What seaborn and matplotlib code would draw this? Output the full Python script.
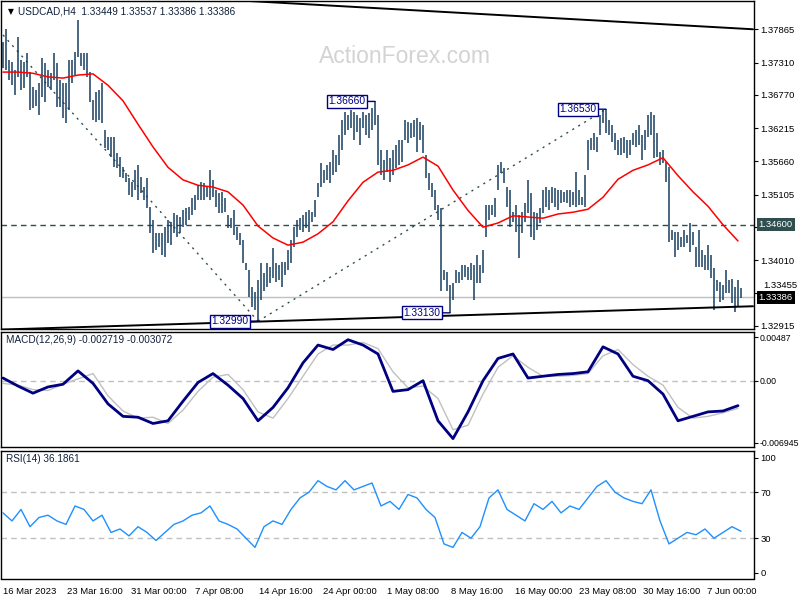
import numpy as np
import matplotlib
matplotlib.use("Agg")
import matplotlib.pyplot as plt
import matplotlib.transforms as mtransforms
import seaborn as sns

sns.set_theme(style="white")
plt.rcParams["font.family"] = ["Liberation Sans", "DejaVu Sans"]

# ---- price bars (H4) ----
high = [
    1.3765, 1.3787, 1.3735, 1.3732, 1.3718, 1.3774, 1.3735, 1.3732, 1.3747, 1.3715,
    1.3690, 1.3685, 1.3697, 1.3739, 1.3730, 1.3718, 1.3713, 1.3747, 1.3730, 1.3702,
    1.3697, 1.3697, 1.3735, 1.3735, 1.3749, 1.3802, 1.3747, 1.3747, 1.3747, 1.3715,
    1.3668, 1.3682, 1.3685, 1.3697, 1.3618, 1.3607, 1.3607, 1.3607, 1.3580, 1.3573,
    1.3557, 1.3547, 1.3538, 1.3531, 1.3551, 1.3560, 1.3540, 1.3523, 1.3538, 1.3490,
    1.3468, 1.3446, 1.3446, 1.3446, 1.3456, 1.3468, 1.3465, 1.3480, 1.3476, 1.3473,
    1.3484, 1.3488, 1.3490, 1.3505, 1.3510, 1.3526, 1.3531, 1.3530, 1.3523, 1.3551,
    1.3535, 1.3518, 1.3513, 1.3515, 1.3505, 1.3476, 1.3471, 1.3484, 1.3456, 1.3446,
    1.3434, 1.3396, 1.3384, 1.3356, 1.3348, 1.3367, 1.3396, 1.3379, 1.3396, 1.3389,
    1.3421, 1.3396, 1.3393, 1.3398, 1.3398, 1.3418, 1.3434, 1.3456, 1.3468, 1.3471,
    1.3476, 1.3481, 1.3484, 1.3481, 1.3501, 1.3530, 1.3563, 1.3551, 1.3560, 1.3565,
    1.3585, 1.3577, 1.3610, 1.3635, 1.3648, 1.3643, 1.3652, 1.3648, 1.3643, 1.3638,
    1.3648, 1.3643, 1.3647, 1.3655, 1.3666, 1.3643, 1.3585, 1.3568, 1.3585, 1.3572,
    1.3585, 1.3593, 1.3602, 1.3602, 1.3635, 1.3632, 1.3630, 1.3635, 1.3638, 1.3632,
    1.3627, 1.3577, 1.3546, 1.3530, 1.3518, 1.3493, 1.3488, 1.3384, 1.3381, 1.3360,
    1.3363, 1.3384, 1.3381, 1.3393, 1.3393, 1.3389, 1.3396, 1.3393, 1.3410, 1.3393,
    1.3418, 1.3493, 1.3493, 1.3493, 1.3505, 1.3560, 1.3565, 1.3555, 1.3523, 1.3518,
    1.3481, 1.3493, 1.3476, 1.3481, 1.3496, 1.3535, 1.3513, 1.3481, 1.3480, 1.3488,
    1.3518, 1.3523, 1.3518, 1.3523, 1.3521, 1.3518, 1.3518, 1.3515, 1.3518, 1.3518,
    1.3515, 1.3548, 1.3518, 1.3506, 1.3543, 1.3602, 1.3605, 1.3613, 1.3607, 1.3643,
    1.3652, 1.3653, 1.3635, 1.3627, 1.3613, 1.3602, 1.3605, 1.3607, 1.3602, 1.3602,
    1.3613, 1.3618, 1.3627, 1.3610, 1.3618, 1.3643, 1.3648, 1.3643, 1.3613, 1.3582,
    1.3585, 1.3565, 1.3557, 1.3451, 1.3448, 1.3448, 1.3440, 1.3451, 1.3443, 1.3463,
    1.3448, 1.3423, 1.3451, 1.3418, 1.3410, 1.3426, 1.3410, 1.3388, 1.3367, 1.3364,
    1.3360, 1.3384, 1.3367, 1.3369, 1.3356, 1.3367, 1.3354,
]
low = [
    1.3722, 1.3718, 1.3702, 1.3693, 1.3677, 1.3707, 1.3685, 1.3688, 1.3707, 1.3652,
    1.3655, 1.3658, 1.3643, 1.3673, 1.3665, 1.3690, 1.3685, 1.3702, 1.3657, 1.3657,
    1.3638, 1.3630, 1.3652, 1.3697, 1.3710, 1.3740, 1.3725, 1.3718, 1.3707, 1.3665,
    1.3635, 1.3632, 1.3635, 1.3630, 1.3588, 1.3585, 1.3573, 1.3557, 1.3555, 1.3540,
    1.3538, 1.3531, 1.3510, 1.3506, 1.3518, 1.3501, 1.3513, 1.3501, 1.3488, 1.3446,
    1.3413, 1.3418, 1.3423, 1.3410, 1.3406, 1.3430, 1.3426, 1.3446, 1.3440, 1.3446,
    1.3456, 1.3460, 1.3468, 1.3476, 1.3484, 1.3501, 1.3501, 1.3501, 1.3506, 1.3501,
    1.3506, 1.3490, 1.3480, 1.3480, 1.3481, 1.3455, 1.3455, 1.3443, 1.3434, 1.3426,
    1.3396, 1.3384, 1.3339, 1.3323, 1.3318, 1.3299, 1.3334, 1.3350, 1.3356, 1.3363,
    1.3371, 1.3364, 1.3367, 1.3356, 1.3376, 1.3384, 1.3396, 1.3423, 1.3440, 1.3451,
    1.3448, 1.3455, 1.3448, 1.3465, 1.3473, 1.3506, 1.3523, 1.3530, 1.3535, 1.3530,
    1.3543, 1.3548, 1.3560, 1.3585, 1.3610, 1.3618, 1.3622, 1.3602, 1.3615, 1.3593,
    1.3622, 1.3610, 1.3605, 1.3618, 1.3627, 1.3560, 1.3543, 1.3535, 1.3548, 1.3531,
    1.3543, 1.3555, 1.3560, 1.3565, 1.3602, 1.3597, 1.3605, 1.3607, 1.3582, 1.3602,
    1.3580, 1.3538, 1.3518, 1.3506, 1.3484, 1.3468, 1.3350, 1.3367, 1.3350, 1.3313,
    1.3334, 1.3363, 1.3363, 1.3367, 1.3373, 1.3367, 1.3367, 1.3334, 1.3363, 1.3363,
    1.3379, 1.3440, 1.3468, 1.3476, 1.3473, 1.3518, 1.3546, 1.3530, 1.3490, 1.3456,
    1.3465, 1.3448, 1.3404, 1.3446, 1.3465, 1.3480, 1.3440, 1.3434, 1.3451, 1.3463,
    1.3480, 1.3490, 1.3484, 1.3496, 1.3490, 1.3484, 1.3496, 1.3498, 1.3496, 1.3490,
    1.3493, 1.3490, 1.3493, 1.3493, 1.3490, 1.3551, 1.3585, 1.3585, 1.3582, 1.3610,
    1.3630, 1.3613, 1.3610, 1.3598, 1.3585, 1.3577, 1.3577, 1.3580, 1.3572, 1.3577,
    1.3593, 1.3590, 1.3593, 1.3568, 1.3585, 1.3607, 1.3610, 1.3572, 1.3573, 1.3560,
    1.3563, 1.3531, 1.3431, 1.3434, 1.3406, 1.3418, 1.3423, 1.3423, 1.3430, 1.3415,
    1.3426, 1.3389, 1.3389, 1.3389, 1.3384, 1.3384, 1.3371, 1.3318, 1.3350, 1.3331,
    1.3334, 1.3346, 1.3346, 1.3329, 1.3315, 1.3323, 1.3338,
]

# red moving average, one reading every 5 bars
MA_STEP = 5
ma = [
    1.3715, 1.3715, 1.3713, 1.3707, 1.3705, 1.3710, 1.3712, 1.3693, 1.3667, 1.3628,
    1.3590, 1.3556, 1.3535, 1.3526, 1.3523, 1.3515, 1.3493, 1.3458, 1.3438, 1.3426,
    1.3431, 1.3445, 1.3465, 1.3500, 1.3531, 1.3548, 1.3551, 1.3560, 1.3573, 1.3558,
    1.3518, 1.3484, 1.3456, 1.3463, 1.3475, 1.3473, 1.3471, 1.3478, 1.3481, 1.3486,
    1.3506, 1.3536, 1.3551, 1.3560, 1.3572, 1.3542, 1.3515, 1.3491, 1.3460, 1.3433,
]

# MACD(12,26,9): main and signal, one reading every 5 bars
MACD_STEP = 5
macd = [
    0.0003, -0.0006, -0.0014, -0.0007, -0.0004, 0.0011, -0.0003, -0.0026, -0.0040, -0.0041,
    -0.0048, -0.0045, -0.0023, -0.0002, 0.0008, -0.0005, -0.0020, -0.0045, -0.0030, -0.0008,
    0.0020, 0.0040, 0.0035, 0.0046, 0.0040, 0.0030, -0.0012, -0.0010, 0.0000, -0.0045,
    -0.0065, -0.0035, 0.0000, 0.0025, 0.0030, 0.0003, 0.0005, 0.0007, 0.0008, 0.0010,
    0.0038, 0.0030, 0.0005, 0.0000, -0.0015, -0.0045, -0.0040, -0.0035, -0.0034, -0.0028,
]
signal = [
    -0.0003, -0.0005, -0.0010, -0.0011, -0.0004, 0.0002, 0.0008, -0.0017, -0.0034, -0.0042,
    -0.0041, -0.0048, -0.0033, -0.0012, 0.0004, 0.0007, -0.0010, -0.0035, -0.0042, -0.0020,
    0.0005, 0.0030, 0.0040, 0.0040, 0.0043, 0.0036, 0.0010, -0.0008, -0.0006, -0.0020,
    -0.0055, -0.0050, -0.0015, 0.0015, 0.0028, 0.0015, 0.0005, 0.0005, 0.0006, 0.0008,
    0.0028, 0.0035, 0.0018, 0.0005, -0.0005, -0.0030, -0.0042, -0.0040, -0.0036, -0.0031,
]

# RSI(14), one reading every 3 bars
RSI_STEP = 3
rsi = [
    52, 45, 55, 40, 48, 50, 45, 42, 58, 55, 45, 50, 35, 38, 32, 40, 35, 28, 35, 42,
    45, 50, 52, 58, 45, 42, 38, 30, 22, 40, 45, 42, 55, 65, 70, 80, 75, 72, 80, 72,
    75, 78, 58, 62, 55, 68, 65, 55, 48, 25, 22, 35, 30, 40, 65, 72, 55, 50, 45, 60,
    55, 62, 52, 58, 55, 65, 75, 80, 70, 65, 62, 60, 72, 45, 25, 30, 35, 33, 38, 30,
    35, 40, 36,
]

# pivots labelled on the chart: (bar, price, text)
pivot_bar = [85, 124, 149, 201]
pivot_price = [1.3299, 1.3666, 1.3313, 1.3653]
pivot_text = ["1.32990", "1.36660", "1.33130", "1.36530"]

# drawn lines: (bar0, price0, bar1, price1)
channel_top = (-1, 1.3857, 250, 1.37865)
channel_bottom = (-1, 1.3285, 250, 1.3324)
dotted_down = (0, 1.3777, 85, 1.3299)
dotted_up = (85, 1.3299, 201, 1.3653)
level_line = 1.34600
last_price = 1.33386

price_ticks = [1.37865, 1.37310, 1.36770, 1.36215, 1.35660, 1.35105, 1.34560, 1.34010, 1.33455, 1.32915]
hidden_ticks = [1.34560, 1.33455]   # labels sit under the two price boxes
macd_ticks = [0.00487, 0.0, -0.006945]
macd_tick_labels = ["0.00487", "0.00", "-0.006945"]
rsi_ticks = [100, 70, 30, 0]
date_labels = ["16 Mar 2023", "23 Mar 16:00", "31 Mar 00:00", "7 Apr 08:00", "14 Apr 16:00",
               "24 Apr 00:00", "1 May 08:00", "8 May 16:00", "16 May 00:00", "23 May 08:00",
               "30 May 16:00", "7 Jun 00:00"]
BARS_PER_LABEL = 64 / 3

BAR_COLOR = "#173f5f"
NAVY = "#000080"
SLATE = "#2f4f4f"
SILVER = "#c0c0c0"
FS = 6.8

fig = plt.figure(figsize=(8, 6), dpi=100)
fig.patch.set_facecolor("white")
left, width = 1 / 800, 753 / 800
ax = fig.add_axes([left, 1 - 329 / 600, width, 328 / 600])
ax_macd = fig.add_axes([left, 1 - 447 / 600, width, 115 / 600])
ax_rsi = fig.add_axes([left, 1 - 578.5 / 600, width, 127.5 / 600])

xlim = (-2 / 3, 751 / 3)
for a in (ax, ax_macd, ax_rsi):
    a.set_facecolor("white")
    a.set_xlim(*xlim)
    a.yaxis.tick_right()
    a.tick_params(axis="both", direction="out", length=3, width=0.8, colors="black",
                  labelsize=FS, pad=1.5)
    for s in a.spines.values():
        s.set_color("black")
        s.set_linewidth(1)
    a.grid(False)

# ---- main price panel ----
bars = np.arange(len(high))
ax.set_ylim(1.32860, 1.38337)
ax.text(0.536, 0.83, "ActionForex.com", transform=ax.transAxes, ha="center", va="center",
        fontsize=16.5, color="#d3d3d3", zorder=0)
ax.axhline(last_price, color=SILVER, lw=1, zorder=1)
ax.axhline(level_line, color=SLATE, lw=1, ls=(0, (4, 3)), zorder=1)
for b0, p0, b1, p1 in (dotted_down, dotted_up):
    ax.plot([b0, b1], [p0, p1], color=SLATE, lw=1, ls=(0, (1.5, 3.5)), zorder=1)
ax.vlines(bars, low, high, color=BAR_COLOR, lw=1.1, zorder=2)
sns.lineplot(x=np.arange(len(ma)) * MA_STEP, y=ma, ax=ax, color="#ff0000", lw=1.1, zorder=3)
for b0, p0, b1, p1 in (channel_top, channel_bottom):
    ax.plot([b0, b1], [p0, p1], color="black", lw=1.4, zorder=3)

for b, p, t in zip(pivot_bar, pivot_price, pivot_text):
    ax.annotate(t, xy=(b, p), xytext=(-7, 0), textcoords="offset points", ha="right", va="center",
                fontsize=7.4, color=NAVY, zorder=6,
                bbox=dict(boxstyle="square,pad=0.15", fc="white", ec=NAVY, lw=1),
                arrowprops=dict(arrowstyle="-", color=NAVY, lw=1, shrinkA=0, shrinkB=0))

ax.set_yticks(price_ticks)
ax.set_yticklabels(["" if v in hidden_ticks else f"{v:.5f}" for v in price_ticks])
ax.set_xticks([])
trans = mtransforms.blended_transform_factory(ax.transAxes, ax.transData)
# the 1.33455 label peeks out just above the last-price box
ax.annotate("1.33455", xy=(1.0, hidden_ticks[1]), xycoords=trans, xytext=(6.5, 2.5),
            textcoords="offset points", ha="left", va="bottom", fontsize=FS,
            color="black", annotation_clip=False)
ax.text(1.006, level_line, "1.34600", transform=trans, ha="left", va="center", fontsize=FS,
        color="white", zorder=10, clip_on=False,
        bbox=dict(boxstyle="square,pad=0.2", fc=SLATE, ec="none"))
ax.text(1.006, last_price, "1.33386", transform=trans, ha="left", va="center", fontsize=FS,
        color="white", zorder=10, clip_on=False,
        bbox=dict(boxstyle="square,pad=0.2", fc="black", ec="none"))
ax.text(0.009, 0.968, "\u25bc", transform=ax.transAxes, ha="left", va="center", fontsize=5.5,
        color="black", family=["DejaVu Sans"])
ax.text(0.023, 0.968, "USDCAD,H4  1.33449 1.33537 1.33386 1.33386", transform=ax.transAxes,
        ha="left", va="center", fontsize=7.2, color="#10203a")

# ---- MACD panel ----
ax_macd.set_ylim(-0.00744, 0.005465)
ax_macd.axhline(0, color=SILVER, lw=1, ls=(0, (4, 3)), zorder=1)
macd_x = np.arange(len(macd)) * MACD_STEP
sns.lineplot(x=macd_x, y=signal, ax=ax_macd, color=SILVER, lw=1, zorder=2)
sns.lineplot(x=macd_x, y=macd, ax=ax_macd, color=NAVY, lw=2, zorder=3)
ax_macd.set_yticks(macd_ticks)
ax_macd.set_yticklabels(macd_tick_labels)
ax_macd.tick_params(axis="y", labelsize=6.3, pad=1)
ax_macd.set_xticks([])
ax_macd.text(0.006, 0.93, "MACD(12,26,9) -0.002719 -0.003072", transform=ax_macd.transAxes,
             ha="left", va="center", fontsize=7.2, color="#10203a")

# ---- RSI panel ----
ax_rsi.set_ylim(-5.04, 105.8)
for lvl in (70, 30):
    ax_rsi.axhline(lvl, color=SILVER, lw=1, ls=(0, (4, 3)), zorder=1)
sns.lineplot(x=np.arange(len(rsi)) * RSI_STEP, y=rsi, ax=ax_rsi, color="#1e90ff", lw=1, zorder=2)
ax_rsi.set_yticks(rsi_ticks)
ax_rsi.set_yticklabels([str(v) for v in rsi_ticks])
ax_rsi.text(0.006, 0.94, "RSI(14) 36.1861", transform=ax_rsi.transAxes,
            ha="left", va="center", fontsize=7.2, color="#10203a")
ax_rsi.set_xticks([k * BARS_PER_LABEL for k in range(len(date_labels))])
ax_rsi.set_xticklabels(date_labels, ha="left")
ax_rsi.tick_params(axis="x", length=4, pad=2)

for a in (ax, ax_macd, ax_rsi):
    a.set_xlim(*xlim)
    a.set_xlabel("")
    a.set_ylabel("")

fig.savefig("out.png", dpi=100, facecolor="white")
